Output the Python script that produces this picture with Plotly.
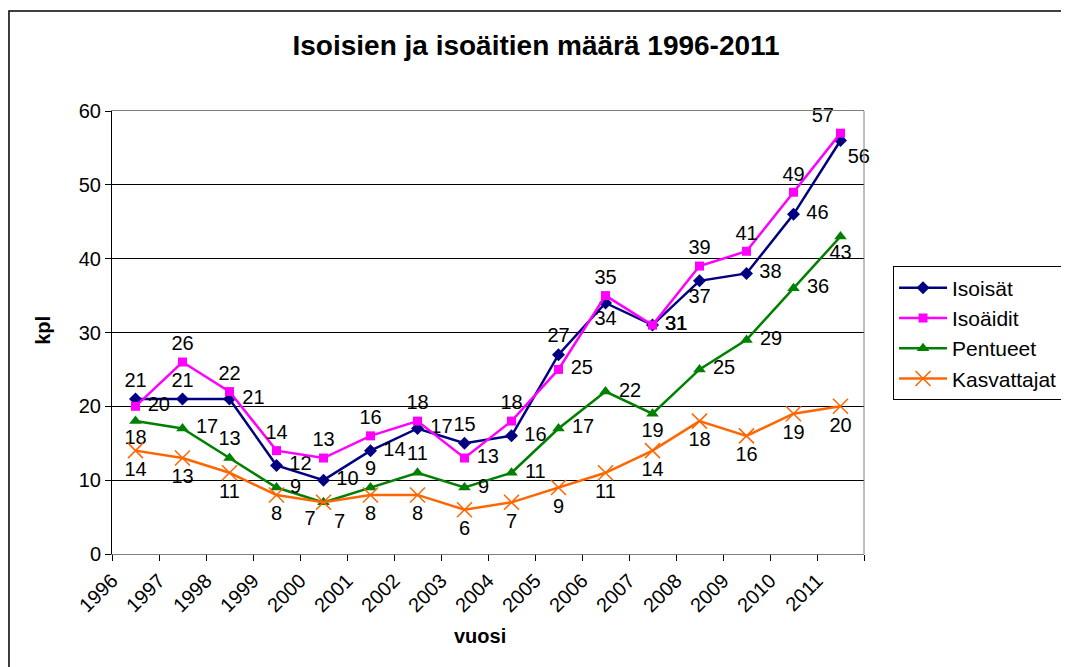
import plotly.graph_objects as go

years = [str(y) for y in range(1996, 2012)]
isoisat = [21, 21, 21, 12, 10, 14, 17, 15, 16, 27, 34, 31, 37, 38, 46, 56]
isoaidit = [20, 26, 22, 14, 13, 16, 18, 13, 18, 25, 35, 31, 39, 41, 49, 57]
pentueet = [18, 17, 13, 9, 7, 9, 11, 9, 11, 17, 22, 19, 25, 29, 36, 43]
kasvattajat = [14, 13, 11, 8, 7, 8, 8, 6, 7, 9, 11, 14, 18, 16, 19, 20]

# label placement per point (Excel had them nudged by hand)
T, B, R = "top center", "bottom center", "middle right"
pos_isoisat = [T, T, R, R, R, R, R, T, R, T, B, R, B, R, R, "bottom right"]
pos_isoaidit = [R, T, T, T, T, T, T, R, T, R, T, R, T, T, T, "top left"]
pos_pentueet = [B, R, T, R, "bottom left", T, T, R, R, R, R, B, R, R, R, B]
pos_kasvattajat = [B, B, B, B, "bottom right", B, B, B, B, B, B, B, B, B, B, B]

FONT = "Arial, Liberation Sans, sans-serif"
xpos = [i + 0.5 for i in range(len(years))]

series = [
    ("Isoisät", isoisat, pos_isoisat, "#000080", dict(symbol="diamond", size=10)),
    ("Isoäidit", isoaidit, pos_isoaidit, "#FF00FF", dict(symbol="square", size=9)),
    ("Pentueet", pentueet, pos_pentueet, "#008000", dict(symbol="triangle-up", size=11)),
    ("Kasvattajat", kasvattajat, pos_kasvattajat, "#FF6600",
     dict(symbol="x-thin-open", size=15, line=dict(width=1.5, color="#FF6600"))),
]

fig = go.Figure()
for name, vals, pos, color, marker in series:
    # a leading space pushes right-hand labels a bit off the marker, like Excel
    labels = [(" " + str(v)) if p.endswith("right") and p.startswith("middle") else str(v)
              for v, p in zip(vals, pos)]
    fig.add_trace(
        go.Scatter(
            x=xpos,
            y=vals,
            mode="lines+markers+text",
            name=name,
            text=labels,
            textposition=pos,
            textfont=dict(family=FONT, size=20, color="black"),
            line=dict(color=color, width=2.5),
            marker=dict(color=color, **marker),
            cliponaxis=False,
        )
    )

# the page body adds 8px around the figure, so margins are shifted by that
fig.update_layout(
    width=1069,
    height=667,
    margin=dict(l=104, r=213, t=103, b=121),
    paper_bgcolor="white",
    plot_bgcolor="white",
    font=dict(family=FONT, size=20, color="black"),
    title=dict(
        text="<b>Isoisien ja isoäitien määrä 1996-2011</b>",
        x=0.494,
        xanchor="center",
        y=0.944,
        yanchor="middle",
        font=dict(size=28),
    ),
    legend=dict(
        x=1.0386,
        y=0.649,
        xanchor="left",
        yanchor="top",
        bordercolor="black",
        borderwidth=1,
        font=dict(size=21),
        itemwidth=48,
        tracegroupgap=0,
    ),
    showlegend=True,
)

fig.update_xaxes(
    range=[0, 16],
    tickmode="array",
    tickvals=list(range(17)),
    ticktext=years + [""],
    tickangle=-45,
    ticks="outside",
    ticklen=6,
    tickcolor="black",
    showgrid=False,
    zeroline=False,
    showline=True,
    linecolor="#808080",
    linewidth=1,
    mirror=True,
    automargin=False,
)
fig.update_yaxes(
    range=[0, 60],
    tickvals=[0, 10, 20, 30, 40, 50, 60],
    ticks="outside",
    ticklen=6,
    tickcolor="black",
    showgrid=True,
    gridcolor="black",
    gridwidth=1,
    zeroline=False,
    showline=True,
    linecolor="black",
    linewidth=1,
    automargin=False,
)

# gray right edge of the plot area and outer chart frame
fig.add_shape(type="line", xref="paper", yref="paper", x0=1, x1=1, y0=0, y1=1,
              line=dict(color="#808080", width=1))
fig.add_shape(type="rect", xref="paper", yref="paper", x0=-0.137, x1=1.3, y0=-0.3, y1=1.2257,
              line=dict(color="black", width=1.5), layer="below")

fig.add_annotation(text="<b>kpl</b>", xref="paper", yref="paper", x=-0.0918, y=0.506,
                   xanchor="center", yanchor="middle",
                   textangle=-90, showarrow=False, font=dict(size=20))
fig.add_annotation(text="<b>vuosi</b>", xref="paper", yref="paper", x=0.489, y=-0.185,
                   xanchor="center", yanchor="middle",
                   showarrow=False, font=dict(size=20))

fig.write_html("out.html")
